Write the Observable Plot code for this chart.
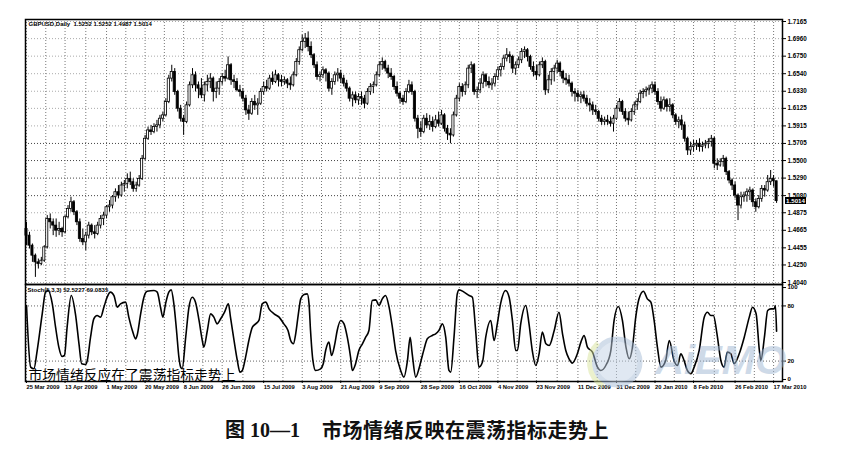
<!DOCTYPE html>
<html><head><meta charset="utf-8">
<script src="https://cdn.jsdelivr.net/npm/d3@7"></script>
<script src="https://cdn.jsdelivr.net/npm/@observablehq/plot@0.6"></script>
<style>
body{margin:0;background:#fff;}
#wrap{position:relative;width:853px;height:459px;overflow:hidden;background:#fff;}
#wrap > svg{position:absolute;left:0;}
.cap{position:absolute;top:420px;font-family:'Liberation Serif','Noto Sans CJK SC',serif;font-weight:bold;font-size:20px;line-height:20px;white-space:pre;color:#111;}
.cap.t{font-family:'Noto Sans CJK SC',sans-serif;letter-spacing:0.5px;}
#pbox{position:absolute;left:785px;width:21px;height:7px;background:#000;color:#fff;font:bold 6.2px 'Liberation Sans',Arial,sans-serif;line-height:7px;text-align:center;}
</style></head><body><div id="wrap"></div>
<script>
// ---------- data ----------
const symbol = "GBPUSD,Daily";
const open = [
1.4681,1.4601,1.4481,1.4361,1.4281,1.4261,1.4301,1.4461,1.4801,1.4761,
1.4721,1.4661,1.4681,1.4641,1.4821,1.4921,1.5001,1.4881,1.4761,1.4561,
1.4521,1.4601,1.4721,1.4641,1.4621,1.4721,1.4801,1.4841,1.4941,1.4961,
1.5061,1.5121,1.5081,1.5201,1.5221,1.5281,1.5241,1.5161,1.5201,1.5281,
1.5521,1.5761,1.5861,1.5841,1.5901,1.5921,1.6001,1.6041,1.6201,1.6481,
1.6561,1.6321,1.6121,1.6001,1.5961,1.6161,1.6401,1.6521,1.6401,1.6361,
1.6281,1.6401,1.6441,1.6481,1.6321,1.6361,1.6441,1.6501,1.6481,1.6641,
1.6461,1.6441,1.6341,1.6321,1.6241,1.6101,1.6061,1.6201,1.6161,1.6181,
1.6321,1.6381,1.6361,1.6481,1.6441,1.6521,1.6461,1.6441,1.6461,1.6421,
1.6401,1.6521,1.6681,1.6821,1.6921,1.6961,1.6861,1.6761,1.6641,1.6501,
1.6521,1.6581,1.6541,1.6361,1.6441,1.6521,1.6541,1.6481,1.6421,1.6361,
1.6241,1.6281,1.6221,1.6261,1.6241,1.6181,1.6321,1.6381,1.6401,1.6521,
1.6641,1.6681,1.6601,1.6541,1.6501,1.6381,1.6301,1.6241,1.6201,1.6321,
1.6401,1.6321,1.6001,1.5881,1.5841,1.6001,1.5921,1.5961,1.5901,1.5981,
1.5941,1.6041,1.5881,1.5821,1.5801,1.6041,1.6241,1.6381,1.6321,1.6401,
1.6601,1.6641,1.6321,1.6341,1.6421,1.6521,1.6441,1.6401,1.6421,1.6501,
1.6581,1.6621,1.6721,1.6761,1.6741,1.6601,1.6641,1.6701,1.6801,1.6821,
1.6741,1.6621,1.6561,1.6521,1.6641,1.6681,1.6341,1.6461,1.6561,1.6601,
1.6661,1.6561,1.6481,1.6461,1.6421,1.6321,1.6301,1.6261,1.6281,1.6241,
1.6181,1.6161,1.6101,1.6081,1.6001,1.5961,1.5981,1.5961,1.5941,1.6001,
1.6121,1.6201,1.6081,1.6001,1.5981,1.6081,1.6161,1.6201,1.6301,1.6321,
1.6341,1.6361,1.6401,1.6321,1.6201,1.6121,1.6221,1.6141,1.6161,1.6041,
1.5961,1.5981,1.5921,1.5761,1.5621,1.5661,1.5681,1.5701,1.5661,1.5681,
1.5701,1.5721,1.5761,1.5461,1.5441,1.5481,1.5521,1.5361,1.5261,1.5201,
1.5081,1.4961,1.5061,1.5081,1.5121,1.5141,1.5001,1.4941,1.5041,1.5161,
1.5141,1.5241,1.5281,1.5252];
const high = [
1.4761,1.4641,1.4501,1.4381,1.4321,1.4341,1.4481,1.4841,1.4861,1.4801,
1.4801,1.4761,1.4701,1.4841,1.4961,1.5061,1.5021,1.4901,1.4801,1.4681,
1.4641,1.4761,1.4741,1.4721,1.4761,1.4841,1.4881,1.4961,1.5021,1.5081,
1.5161,1.5201,1.5241,1.5261,1.5341,1.5361,1.5281,1.5241,1.5321,1.5561,
1.5801,1.5901,1.5921,1.5941,1.5981,1.6041,1.6081,1.6241,1.6521,1.6641,
1.6601,1.6341,1.6161,1.6041,1.6201,1.6441,1.6601,1.6561,1.6441,1.6481,
1.6441,1.6521,1.6541,1.6501,1.6441,1.6481,1.6541,1.6581,1.6741,1.6661,
1.6521,1.6481,1.6401,1.6361,1.6281,1.6161,1.6241,1.6281,1.6241,1.6361,
1.6441,1.6461,1.6521,1.6561,1.6581,1.6541,1.6521,1.6501,1.6481,1.6501,
1.6561,1.6721,1.6861,1.7001,1.7021,1.7041,1.6921,1.6781,1.6681,1.6561,
1.6621,1.6601,1.6561,1.6481,1.6561,1.6601,1.6581,1.6521,1.6461,1.6381,
1.6321,1.6321,1.6301,1.6321,1.6281,1.6361,1.6421,1.6441,1.6561,1.6681,
1.6729,1.6701,1.6641,1.6601,1.6521,1.6441,1.6321,1.6281,1.6361,1.6461,
1.6441,1.6341,1.6041,1.5961,1.6041,1.6061,1.6041,1.6021,1.6041,1.6081,
1.6101,1.6061,1.5921,1.5881,1.6081,1.6281,1.6421,1.6421,1.6441,1.6641,
1.6681,1.6661,1.6381,1.6481,1.6561,1.6541,1.6501,1.6481,1.6541,1.6621,
1.6661,1.6761,1.6841,1.6801,1.6761,1.6681,1.6741,1.6841,1.6861,1.6841,
1.6761,1.6681,1.6641,1.6681,1.6729,1.6701,1.6521,1.6601,1.6641,1.6701,
1.6681,1.6581,1.6541,1.6521,1.6441,1.6361,1.6341,1.6321,1.6329,1.6281,
1.6241,1.6201,1.6161,1.6101,1.6041,1.6021,1.6041,1.6021,1.6041,1.6161,
1.6241,1.6221,1.6121,1.6081,1.6121,1.6201,1.6241,1.6341,1.6361,1.6381,
1.6401,1.6441,1.6441,1.6361,1.6261,1.6261,1.6241,1.6241,1.6181,1.6061,
1.6021,1.6041,1.5961,1.5781,1.5721,1.5741,1.5741,1.5761,1.5721,1.5741,
1.5761,1.5801,1.5781,1.5521,1.5521,1.5561,1.5541,1.5381,1.5281,1.5241,
1.5101,1.5121,1.5121,1.5161,1.5181,1.5161,1.5041,1.5081,1.5201,1.5201,
1.5321,1.5381,1.5321,1.5252];
const low = [
1.4481,1.4441,1.4281,1.4101,1.4201,1.4241,1.4281,1.4441,1.4681,1.4601,
1.4581,1.4601,1.4581,1.4621,1.4801,1.4881,1.4841,1.4721,1.4521,1.4481,
1.4421,1.4561,1.4601,1.4561,1.4601,1.4681,1.4721,1.4801,1.4881,1.4921,
1.5001,1.5041,1.5061,1.5121,1.5161,1.5201,1.5121,1.5121,1.5181,1.5261,
1.5501,1.5741,1.5801,1.5821,1.5841,1.5881,1.5961,1.6021,1.6181,1.6441,
1.6281,1.6081,1.5961,1.5801,1.5941,1.6141,1.6361,1.6321,1.6241,1.6241,
1.6201,1.6321,1.6361,1.6201,1.6241,1.6281,1.6401,1.6441,1.6461,1.6401,
1.6361,1.6321,1.6261,1.6201,1.6041,1.5981,1.6041,1.6101,1.6041,1.6161,
1.6281,1.6321,1.6341,1.6401,1.6421,1.6381,1.6381,1.6401,1.6361,1.6341,
1.6381,1.6501,1.6641,1.6801,1.6841,1.6801,1.6721,1.6601,1.6461,1.6441,
1.6481,1.6441,1.6321,1.6281,1.6401,1.6441,1.6421,1.6381,1.6321,1.6201,
1.6141,1.6181,1.6161,1.6161,1.6121,1.6161,1.6281,1.6301,1.6381,1.6501,
1.6581,1.6561,1.6481,1.6461,1.6341,1.6261,1.6181,1.6161,1.6181,1.6301,
1.6281,1.5961,1.5761,1.5781,1.5821,1.5881,1.5861,1.5841,1.5881,1.5901,
1.5921,1.5841,1.5741,1.5701,1.5781,1.6021,1.6201,1.6261,1.6281,1.6361,
1.6541,1.6281,1.6241,1.6301,1.6361,1.6381,1.6361,1.6341,1.6381,1.6461,
1.6501,1.6581,1.6681,1.6661,1.6541,1.6521,1.6601,1.6661,1.6721,1.6681,
1.6581,1.6501,1.6461,1.6501,1.6601,1.6281,1.6301,1.6401,1.6441,1.6541,
1.6501,1.6421,1.6401,1.6381,1.6261,1.6201,1.6201,1.6181,1.6201,1.6141,
1.6081,1.6041,1.6041,1.5961,1.5921,1.5921,1.5921,1.5901,1.5841,1.5981,
1.6081,1.6041,1.5961,1.5921,1.5961,1.6041,1.6101,1.6181,1.6241,1.6261,
1.6281,1.6301,1.6281,1.6161,1.6081,1.6101,1.6081,1.6081,1.6001,1.5921,
1.5881,1.5861,1.5721,1.5561,1.5561,1.5601,1.5621,1.5601,1.5601,1.5641,
1.5641,1.5661,1.5401,1.5381,1.5421,1.5421,1.5321,1.5221,1.5141,1.5041,
1.4781,1.4921,1.5001,1.5001,1.5021,1.4941,1.4881,1.4921,1.5001,1.5061,
1.5121,1.5201,1.5181,1.4987];
const close = [
1.4601,1.4481,1.4361,1.4281,1.4261,1.4301,1.4461,1.4801,1.4761,1.4721,
1.4661,1.4681,1.4641,1.4821,1.4921,1.5001,1.4881,1.4761,1.4561,1.4521,
1.4601,1.4721,1.4641,1.4621,1.4721,1.4801,1.4841,1.4941,1.4961,1.5061,
1.5121,1.5081,1.5201,1.5221,1.5281,1.5241,1.5161,1.5201,1.5281,1.5521,
1.5761,1.5861,1.5841,1.5901,1.5921,1.6001,1.6041,1.6201,1.6481,1.6561,
1.6321,1.6121,1.6001,1.5961,1.6161,1.6401,1.6521,1.6401,1.6361,1.6281,
1.6401,1.6441,1.6481,1.6321,1.6361,1.6441,1.6501,1.6481,1.6641,1.6461,
1.6441,1.6341,1.6321,1.6241,1.6101,1.6061,1.6201,1.6161,1.6181,1.6321,
1.6381,1.6361,1.6481,1.6441,1.6521,1.6461,1.6441,1.6461,1.6421,1.6401,
1.6521,1.6681,1.6821,1.6921,1.6961,1.6861,1.6761,1.6641,1.6501,1.6521,
1.6581,1.6541,1.6361,1.6441,1.6521,1.6541,1.6481,1.6421,1.6361,1.6241,
1.6281,1.6221,1.6261,1.6241,1.6181,1.6321,1.6381,1.6401,1.6521,1.6641,
1.6681,1.6601,1.6541,1.6501,1.6381,1.6301,1.6241,1.6201,1.6321,1.6401,
1.6321,1.6001,1.5881,1.5841,1.6001,1.5921,1.5961,1.5901,1.5981,1.5941,
1.6041,1.5881,1.5821,1.5801,1.6041,1.6241,1.6381,1.6321,1.6401,1.6601,
1.6641,1.6321,1.6341,1.6421,1.6521,1.6441,1.6401,1.6421,1.6501,1.6581,
1.6621,1.6721,1.6761,1.6741,1.6601,1.6641,1.6701,1.6801,1.6821,1.6741,
1.6621,1.6561,1.6521,1.6641,1.6681,1.6341,1.6461,1.6561,1.6601,1.6661,
1.6561,1.6481,1.6461,1.6421,1.6321,1.6301,1.6261,1.6281,1.6241,1.6181,
1.6161,1.6101,1.6081,1.6001,1.5961,1.5981,1.5961,1.5941,1.6001,1.6121,
1.6201,1.6081,1.6001,1.5981,1.6081,1.6161,1.6201,1.6301,1.6321,1.6341,
1.6361,1.6401,1.6321,1.6201,1.6121,1.6221,1.6141,1.6161,1.6041,1.5961,
1.5981,1.5921,1.5761,1.5621,1.5661,1.5681,1.5701,1.5661,1.5681,1.5701,
1.5721,1.5761,1.5461,1.5441,1.5481,1.5521,1.5361,1.5261,1.5201,1.5081,
1.4961,1.5061,1.5081,1.5121,1.5141,1.5001,1.4941,1.5041,1.5161,1.5141,
1.5241,1.5281,1.5252,1.5014];

const dateTickBars = [0,13,27,40,53,66,80,93,106,119,133,146,159,172,186,199,212,225,239,252];
const dateTickLabels = ["25 Mar 2009","13 Apr 2009","1 May 2009","20 May 2009","8 Jun 2009","26 Jun 2009","15 Jul 2009","3 Aug 2009","21 Aug 2009","9 Sep 2009","28 Sep 2009","16 Oct 2009","4 Nov 2009","23 Nov 2009","11 Dec 2009","31 Dec 2009","20 Jan 2010","8 Feb 2010","26 Feb 2010","17 Mar 2010"];
const priceTicks = [1.7165,1.6960,1.6750,1.6540,1.6330,1.6125,1.5915,1.5705,1.5500,1.5290,1.5080,1.4875,1.4665,1.4455,1.4250,1.4040];

const stochBar = [0,1.4,2.5,3.6,5.3,6.4,7.3,8.7,9.8,10.9,12,12.8,13.7,15.1,16.5,17.7,18.6,19.9,20.5,21.6,22.7,23.8,25,26.1,27.2,28.3,29.5,30.6,31.7,33.4,34.5,35.7,36.8,37.3,38.5,39.6,40.7,43,44.1,45.2,46,46.9,48,48.8,49.7,50.6,51.4,52,52.5,53.7,54.8,55.9,57,58.2,59.3,59.8,61,62.1,63.2,64.3,65.5,66.8,68.1,68.8,70,71.1,72,72.8,73.9,75,76.2,77.3,78.4,79.5,80.7,81.8,83.5,85.2,86.8,88.2,89.1,90,90.8,91.7,92.5,93.6,94.7,95.3,95.8,96.6,97.5,99.2,100.1,100.9,102,102.9,104,104.8,106,107.1,108.2,109.3,109.9,111,112.1,113.3,114.4,115.5,116.6,117.8,118.9,120,121.1,122.3,123.4,124.5,126.2,127.3,128.5,129.4,130.1,131.3,132.4,133.2,134.1,135.2,136.9,138,139.1,140.3,141.4,142.5,143.1,144.2,145.3,145.9,147.6,149.3,150.4,151.5,152.6,153.8,154.9,156.6,157.7,158.8,159.9,161.6,162.8,163.9,165,165.6,166.7,168.4,169.5,170.6,171.8,172.9,174,175.2,176.3,178,179.6,180.8,181.9,183,184.1,185.8,187,188.1,189.2,190.9,192.6,193.7,195.4,197.1,198.2,199.6,201,202.2,203.3,204.4,205.5,206.6,208.1,209.4,210.6,211.7,212.8,214,215.6,216.8,218.4,219.6,220.7,221.8,222.9,224.1,225.2,226.9,228.6,229.7,230.8,231.7,232.9,234.2,235.3,236.4,237.6,238.7,240.4,242.1,243.8,244.9,246.1,247.2,247.7,248.9,250,251.1,252.2,252.6,253];
const stochVal = [80.5,13.4,11.6,31.5,71.4,95,96.8,82.3,56.9,35.2,25,26.1,57,91.3,71.4,38.8,17.1,16.3,20.7,46,66,69.6,67.8,78.6,89.5,95,91.3,78.6,82.3,84.1,67.8,53.3,44.2,47.9,71.4,89.5,96,96.8,95,78.6,67.8,82.3,95,97.5,82.3,53.3,24.3,13.4,11.6,46,78.6,89.5,84.1,64.2,42.4,35.2,53.3,71.4,67.8,60.5,66,73.2,82.3,67.8,42.4,20.7,8,9.8,24.3,42.4,56.9,60.5,64.2,82.3,84.1,76.8,71.4,67.8,60.5,53.3,42.4,38.8,49.7,71.4,87.7,92.4,93.1,82.3,53.3,20.7,9.8,11.6,17.1,31.5,40.6,26.1,38.8,53.3,64.2,60.5,46,24.3,9.8,17.1,31.5,38.8,46,53.3,85.9,86.6,80.5,87.7,91.3,78.6,56.9,31.5,9.8,2.6,20.7,46,27.9,2.6,12,22,33,44.2,47.9,49.7,53.3,60.5,46,9.8,8,46,93.1,97.5,95,91.3,89.5,53.3,13.4,18.9,46,64.2,42.4,60.5,82.3,96.8,89.5,64.2,31.5,31.5,60.5,80.5,60.5,31.5,15.2,27.9,51.5,38.8,37,53.3,73.2,49.7,31.5,22.5,17.8,27.9,40.6,47.9,35.2,29.7,13.4,9.8,15.2,31.5,64.2,79.4,64.2,35.2,22.5,35.2,67.8,87.7,96,87.7,84.1,64.2,35.2,13.4,20.7,42.4,20.7,15.2,27.9,20.7,9.8,6.2,13.4,31.5,67.8,73.2,69.6,69.6,49.7,20.7,13.4,29.7,27.9,17.1,27.9,46,67.8,78.6,71.4,31.5,20.7,46,75,76.8,76.8,80.5,52.5];
const stochTitle = "Stoch(5,3,3)";
const stochMain = 52.5227, stochSignal = 69.0835;
const stochTicks = [100, 80, 20, 0];
const stochLevels = [80, 20];
const overlayNote = "市场情绪反应在了震荡指标走势上";
const figNo = "图 10—1";
const figTitle = "市场情绪反映在震荡指标走势上";
const watermark = "AiEMO";

// ---------- build ----------
const bars = close.map((c, i) => ({i, o: open[i], h: high[i], l: low[i], c}));
const last = bars[bars.length - 1];
const labelByBar = new Map(dateTickBars.map((b, k) => [b, dateTickLabels[k]]));
const gridBars = dateTickBars.flatMap((b, k) => k < dateTickBars.length - 1 ? [b, (b + dateTickBars[k + 1]) / 2] : [b]);
const stochPts = stochBar.map((b, k) => ({b, v: stochVal[k]}));
const isStrong = p => p >= 1.508 && p <= 1.5705;

const W = 853, ML = 25, MR = 71;
const xDomain = [-0.34, 255.0];
const font = "'Liberation Sans', Arial, sans-serif";
const f4 = d => d.toFixed(4);

const main = Plot.plot({
  width: W, height: 284, marginTop: 19, marginBottom: 0, marginLeft: ML, marginRight: MR,
  x: {domain: xDomain, axis: null, label: null},
  y: {domain: [1.4016, 1.7189], axis: null, label: null},
  style: {fontFamily: font, fontWeight: "bold", background: "transparent", color: "black", overflow: "visible"},
  marks: [
    Plot.ruleY(priceTicks.filter(p => !isStrong(p)), {stroke: "#aaa", strokeDasharray: "1,2"}),
    Plot.ruleY(priceTicks.filter(isStrong), {stroke: "#444", strokeDasharray: "1,2"}),
    Plot.ruleX(gridBars, {stroke: "#777", strokeDasharray: "1,2"}),
    Plot.ruleX(bars, {x: "i", y1: "l", y2: "h", stroke: "black", strokeWidth: 1}),
    Plot.rect(bars.filter(d => d.c >= d.o), {x1: d => d.i - 0.36, x2: d => d.i + 0.36, y1: "o", y2: "c", fill: "white", stroke: "black", strokeWidth: 0.8}),
    Plot.rect(bars.filter(d => d.c < d.o), {x1: d => d.i - 0.36, x2: d => d.i + 0.36, y1: "o", y2: "c", fill: "black", stroke: "black", strokeWidth: 0.8}),
    Plot.axisY(priceTicks, {anchor: "right", label: null, tickSize: 3, tickPadding: 2, tickFormat: f4, fontSize: 6.3}),
    Plot.text([`${symbol}  ${f4(last.o)} ${f4(last.h)} ${f4(last.l)} ${f4(last.c)}`], {frameAnchor: "top-left", lineAnchor: "top", textAnchor: "start", dx: 3, dy: 2, fontSize: 6}),
    Plot.frame({stroke: "black", strokeWidth: 1.5})
  ]
});
main.style.top = "0px";

const stoch = Plot.plot({
  width: W, height: 112, marginTop: 0, marginBottom: 15, marginLeft: ML, marginRight: MR,
  x: {domain: xDomain, axis: null, label: null},
  y: {domain: [-2.2, 103.3], axis: null, label: null},
  style: {fontFamily: font, fontWeight: "bold", background: "transparent", color: "black", overflow: "visible"},
  marks: [
    Plot.ruleY(stochLevels, {stroke: "#666", strokeDasharray: "1,2"}),
    Plot.ruleX(gridBars, {stroke: "#777", strokeDasharray: "1,2"}),
    Plot.line(stochPts, {x: "b", y: "v", stroke: "black", strokeWidth: 1.6, curve: "monotone-x"}),
    Plot.axisY(stochTicks, {anchor: "right", label: null, tickSize: 3, tickPadding: 2, fontSize: 6}),
    Plot.axisX(dateTickBars, {anchor: "bottom", label: null, tickSize: 2, tickPadding: 1, textAnchor: "start", tickFormat: d => labelByBar.get(d), fontSize: 5.8}),
    Plot.text([`${stochTitle} ${f4(stochMain)} ${f4(stochSignal)}`], {frameAnchor: "top-left", lineAnchor: "top", textAnchor: "start", dx: 2, dy: 3, fontSize: 6}),
    Plot.text([overlayNote], {frameAnchor: "bottom-left", lineAnchor: "bottom", textAnchor: "start", dx: 3, dy: -2, fontSize: 13.8, fontWeight: "normal", fontFamily: "'Noto Sans CJK SC', sans-serif"}),
    Plot.frame({stroke: "black", strokeWidth: 1.5})
  ]
});
stoch.style.top = "284px";

const wrap = document.getElementById("wrap");
wrap.appendChild(main);
wrap.appendChild(stoch);

// current price marker at the last close, placed with the chart's own y scale
const yLast = main.scale("y").apply(last.c);
const box = document.createElement("div");
box.id = "pbox";
box.textContent = f4(last.c);
box.style.top = (yLast - 3.5) + "px";
wrap.appendChild(box);

// watermark of the scanned page
const ns = "http://www.w3.org/2000/svg";
const wm = document.createElementNS(ns, "svg");
wm.setAttribute("width", W); wm.setAttribute("height", 459);
wm.style.cssText = "position:absolute;left:0;top:0;pointer-events:none";
wm.innerHTML = `<g opacity="0.5">
 <circle cx="617" cy="362" r="23" fill="#c3d3e6" stroke="#a6bcd7" stroke-width="5"/>
 <path d="M598 343 A27 27 0 0 0 603 386" fill="none" stroke="#d9e59c" stroke-width="5"/>
 <text x="655" y="374" font-family="Liberation Sans" font-size="40" font-weight="bold" font-style="italic" fill="#9fb6d2"></text>
</g>`;
wm.querySelector("text").textContent = watermark;
wrap.appendChild(wm);

// figure caption
const c1 = document.createElement("div");
c1.className = "cap"; c1.style.left = "225px"; c1.textContent = figNo;
const c2 = document.createElement("div");
c2.className = "cap t"; c2.style.left = "322px"; c2.textContent = figTitle;
wrap.appendChild(c1); wrap.appendChild(c2);
</script></body></html>
